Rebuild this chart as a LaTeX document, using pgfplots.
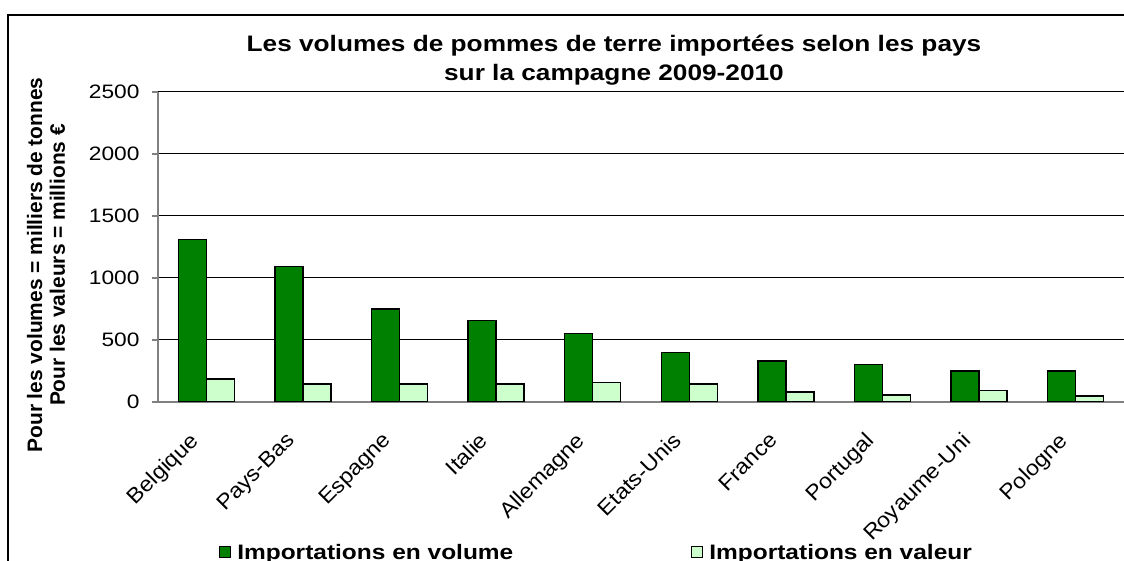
\documentclass[border=0pt]{standalone}
\usepackage{pgfplots}
\pgfplotsset{compat=1.18}
\usepackage{fontspec}
\setmainfont{Liberation Sans}[FakeStretch=1.17]
\newfontfamily\plainsans{Liberation Sans}
\newfontfamily\catsans{Liberation Sans}[FakeStretch=1.08]
\definecolor{volgreen}{HTML}{008000}
\definecolor{valgreen}{HTML}{CCFFCC}
\definecolor{axisgray}{HTML}{808080}

\begin{document}
\begin{tikzpicture}[x=1bp,y=1bp]
\useasboundingbox (0,0) rectangle (1124,561);
% chart frame (runs off the right and bottom edges)
\draw[line width=1.2bp] (8,-20) |- (1150,546);
\node[font=\bfseries\fontsize{22.5}{29}\selectfont, align=center] at (614,501)
  {Les volumes de pommes de terre importées selon les pays\\sur la campagne 2009-2010};
\node[rotate=90, font=\plainsans\bfseries\fontsize{21}{23}\selectfont, align=center] at (46,296)
  {Pour les volumes = milliers de tonnes\\Pour les valeurs = millions €};
\begin{axis}[
  at={(158bp,159bp)}, anchor=south west,
  scale only axis, width=966bp, height=310bp,
  xmin=0.5, xmax=10.5, ymin=0, ymax=2500,
  axis x line*=bottom, axis y line*=left,
  axis line style={axisgray, line width=1.2bp, -},
  ytick={0,500,...,2500},
  ymajorgrids, grid style={black, line width=1bp},
  tick align=outside, major tick length=6bp, minor tick length=7bp,
  ytick style={axisgray, line width=1.2bp},
  xtick={1,...,10},
  xticklabels={Belgique,Pays-Bas,Espagne,Italie,Allemagne,Etats-Unis,France,Portugal,Royaume-Uni,Pologne},
  xtick style={draw=none},
  minor xtick={0.5,1.5,...,10.5},
  minor tick style={axisgray, line width=1.2bp},
  /pgf/number format/assume math mode=true,
  /pgf/number format/1000 sep={},
  yticklabel style={font=\fontsize{19.5}{21}\selectfont, xshift=-9bp},
  xticklabel style={font=\catsans\fontsize{21.5}{23}\selectfont, xshift=-18bp, yshift=-18bp, rotate=45, anchor=north east},
  ybar=0pt, bar width=28bp,
  legend style={at={(0.454,-0.485)}, anchor=center, draw=none, fill=none,
    legend columns=2, font=\bfseries\fontsize{21}{24}\selectfont,
    /tikz/every even column/.append style={column sep=176bp}},
  legend image code/.code={\draw[#1, line width=1bp] (0bp,-5.5bp) rectangle (11bp,5.5bp);},
  /tikz/every odd column/.append style={column sep=4bp},
]
\addplot[fill=volgreen, draw=black, line width=1.3bp] coordinates {
  (1,1310) (2,1090) (3,750) (4,660) (5,550) (6,400) (7,330) (8,305) (9,250) (10,250)};
\addplot[fill=valgreen, draw=black, line width=1.3bp] coordinates {
  (1,185) (2,145) (3,145) (4,145) (5,160) (6,145) (7,80) (8,57) (9,90) (10,48)};
\legend{Importations en volume, Importations en valeur}
\end{axis}
\end{tikzpicture}
\end{document}
